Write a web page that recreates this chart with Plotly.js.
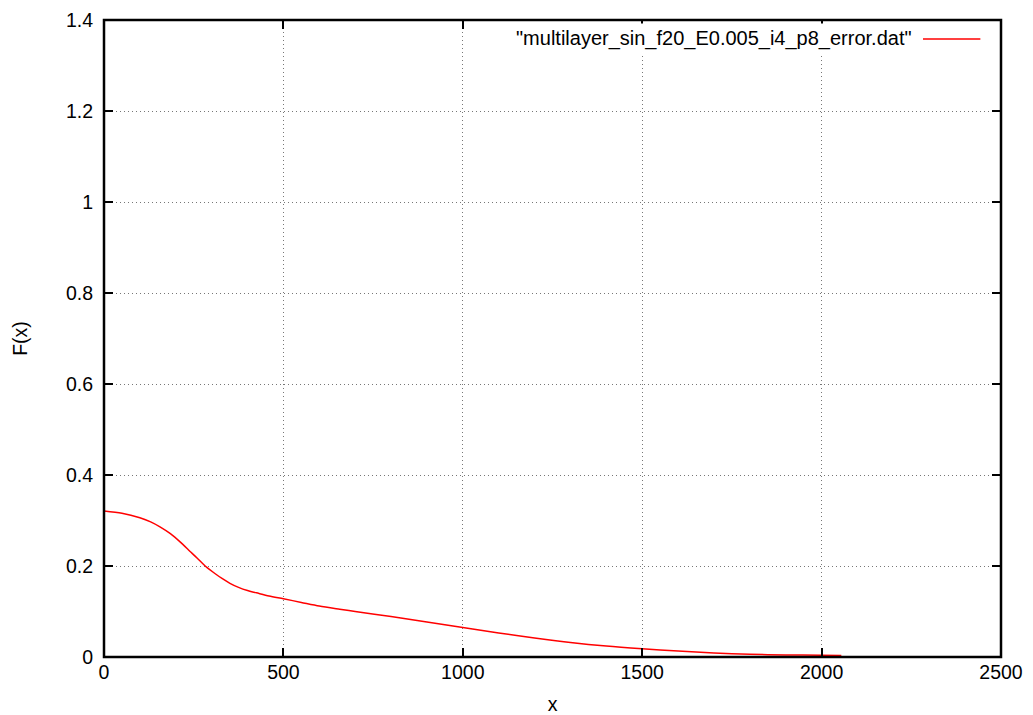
<!DOCTYPE html>
<html>
<head>
<meta charset="utf-8">
<script src="https://cdn.plot.ly/plotly-3.0.1.min.js"></script>
<style>html,body{margin:0;padding:0;background:#fff;}#chart{width:1033px;height:715px;}</style>
</head>
<body>
<div id="chart"></div>
<script>
const seriesName = '"multilayer_sin_f20_E0.005_i4_p8_error.dat"';
// initial spike at x = 0 (runs off the top of the plot)
const spikeX = [0, 0];
const spikeY = [2.0, 0.321];
// decay curve
const xValues = [0, 50, 100, 130, 156, 185, 212, 240, 260, 282, 310, 330, 351, 375, 400, 425, 460, 500, 550, 600, 657, 700, 800, 900, 1000, 1100, 1200, 1300, 1400, 1500, 1600, 1700, 1800, 1900, 2000, 2055];
const yValues = [0.321, 0.316, 0.306, 0.297, 0.286, 0.271, 0.253, 0.232, 0.217, 0.200, 0.183, 0.172, 0.162, 0.153, 0.146, 0.141, 0.134, 0.128, 0.120, 0.112, 0.105, 0.100, 0.089, 0.077, 0.065, 0.053, 0.042, 0.032, 0.024, 0.018, 0.013, 0.009, 0.006, 0.0045, 0.004, 0.0035];
const xTicks = [0, 500, 1000, 1500, 2000, 2500];
const yTicks = [0, 0.2, 0.4, 0.6, 0.8, 1, 1.2, 1.4];

const font = {family: 'Liberation Sans, Arial, sans-serif', size: 19.5, color: '#000'};
const legendFont = {family: 'Liberation Sans, Arial, sans-serif', size: 20, color: '#000'};
const axisCommon = {
  showline: false, mirror: 'allticks',
  ticks: 'inside', ticklen: 9, tickwidth: 2, tickcolor: '#000',
  showgrid: true, gridcolor: '#777', griddash: '1px,3px', gridwidth: 1,
  zeroline: false, tickfont: font
};

const data = [
  {x: spikeX, y: spikeY, type: 'scatter', mode: 'lines', name: seriesName,
   line: {color: '#ff0000', width: 1.5}, showlegend: false},
  {x: xValues, y: yValues, type: 'scatter', mode: 'lines', name: seriesName,
   line: {color: '#ff0000', width: 1.5, shape: 'spline', smoothing: 0.8}, showlegend: false}
];

const layout = {
  width: 1033, height: 715,
  margin: {l: 104, r: 32, t: 20, b: 58},
  paper_bgcolor: '#fff', plot_bgcolor: '#fff',
  font: font,
  showlegend: false,
  xaxis: Object.assign({}, axisCommon, {
    range: [0, 2500], tickvals: xTicks, ticktext: xTicks.map(String),
    ticklabelstandoff: 1,
    title: {text: 'x', font: font, standoff: 26}
  }),
  yaxis: Object.assign({}, axisCommon, {
    range: [0, 1.4], tickvals: yTicks, ticktext: yTicks.map(String),
    ticklabelstandoff: 10,
    title: {text: 'F(x)', font: font, standoff: 33}
  }),
  annotations: [{
    xref: 'paper', yref: 'paper', x: 0.905, y: 0.971, xanchor: 'right', yanchor: 'middle',
    text: seriesName, showarrow: false, font: legendFont, bgcolor: '#fff', borderpad: 3
  }],
  shapes: [
    {type: 'line', xref: 'paper', yref: 'paper', x0: 0.913, x1: 0.977, y0: 0.97, y1: 0.97,
     line: {color: '#ff0000', width: 1.5}},
    {type: 'rect', xref: 'paper', yref: 'paper', x0: 0, x1: 1, y0: 0, y1: 1,
     line: {color: '#000', width: 2.5}, fillcolor: 'rgba(0,0,0,0)', layer: 'above'}
  ]
};

Plotly.newPlot('chart', data, layout, {staticPlot: true, displayModeBar: false});
</script>
</body>
</html>
